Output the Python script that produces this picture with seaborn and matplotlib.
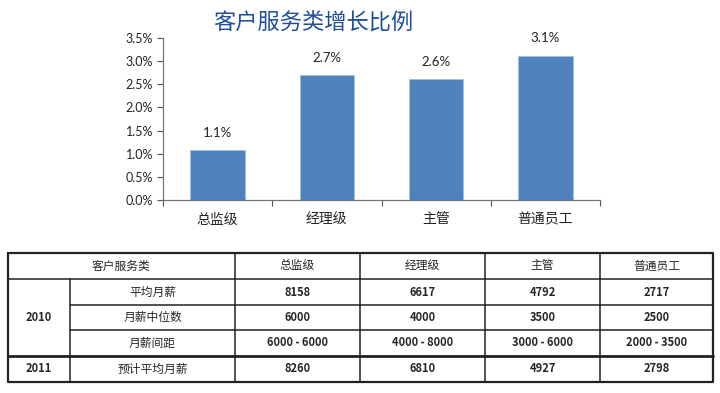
import matplotlib
matplotlib.use("Agg")
import matplotlib.pyplot as plt
import seaborn as sns
import pandas as pd
from matplotlib.ticker import FuncFormatter, FixedLocator

# ---- data ----
categories = ["总监级", "经理级", "主管", "普通员工"]
growth = [1.07, 2.70, 2.62, 3.12]  # percent
title = "客户服务类增长比例"

table_header = ["客户服务类", "总监级", "经理级", "主管", "普通员工"]
row_years = ["2010", "2011"]
row_labels = ["平均月薪", "月薪中位数", "月薪间距", "预计平均月薪"]
avg_salary_2010 = ["8158", "6617", "4792", "2717"]
median_salary_2010 = ["6000", "4000", "3500", "2500"]
salary_range_2010 = ["6000 - 6000", "4000 - 8000", "3000 - 6000", "2000 - 3500"]
avg_salary_2011 = ["8260", "6810", "4927", "2798"]

sns.set_theme(style="white")
plt.rcParams["font.family"] = ["Noto Sans CJK SC", "DejaVu Sans"]

W, H = 720, 393
fig = plt.figure(figsize=(W / 100, H / 100), dpi=100)

# ---- bar chart ----
ax = fig.add_axes([163 / W, 1 - 200 / H, (600 - 163) / W, (200 - 38) / H])
df = pd.DataFrame({"cat": categories, "val": growth})
sns.barplot(data=df, x="cat", y="val", color="#4F81BD", saturation=1,
            width=0.5, ax=ax, edgecolor="#9DC3E6", linewidth=0.6)
ax.set_ylim(0, 3.5)
ax.set_xlim(-0.5, len(categories) - 0.5)
ax.set_yticks([i * 0.5 for i in range(8)])
ax.yaxis.set_major_formatter(FuncFormatter(lambda v, p: f"{v:.1f}%"))
for lab in ax.get_yticklabels():
    lab.set_fontfamily(["Lato", "DejaVu Sans"])
ax.tick_params(axis="y", labelsize=9, length=4, width=0.8, color="#555555",
               direction="out", left=True, pad=3, labelcolor="#222222")
ax.tick_params(axis="x", which="major", length=0, labelsize=10, pad=9,
               labelcolor="#222222")
ax.xaxis.set_minor_locator(FixedLocator([i - 0.5 for i in range(len(categories) + 1)]))
ax.tick_params(axis="x", which="minor", length=4, width=0.8, color="#555555",
               direction="out", bottom=True)
ax.set_xlabel("")
ax.set_ylabel("")
for s in ["top", "right"]:
    ax.spines[s].set_visible(False)
for s in ["left", "bottom"]:
    ax.spines[s].set_color("#777777")
    ax.spines[s].set_linewidth(0.9)
for c in ax.containers:
    ax.bar_label(c, labels=[f"{v:.1f}%" for v in growth], padding=8,
                 fontsize=9.5, color="#222222", family=["Lato", "DejaVu Sans"])

fig.text(313 / W, 1 - 22 / H, title, ha="center", va="center",
         fontsize=16, color="#1F4E9A")

# ---- table ----
tx = fig.add_axes([0, 0, 1, 1])
tx.set_xlim(0, W)
tx.set_ylim(H, 0)
tx.axis("off")
tx.patch.set_alpha(0)

xs = [8, 70, 235, 360, 485, 600, 713]
ys = [253, 279, 305, 330, 356, 382]
lc = "#222222"
lw = 1.1
# outer box
tx.plot([xs[0], xs[-1], xs[-1], xs[0], xs[0]], [ys[0], ys[0], ys[-1], ys[-1], ys[0]],
        color=lc, lw=1.6)
# horizontal lines
tx.plot([xs[0], xs[-1]], [ys[1], ys[1]], color=lc, lw=lw)
tx.plot([xs[1], xs[-1]], [ys[2], ys[2]], color=lc, lw=lw)
tx.plot([xs[1], xs[-1]], [ys[3], ys[3]], color=lc, lw=lw)
tx.plot([xs[0], xs[-1]], [ys[4], ys[4]], color=lc, lw=2.0)
# vertical lines
tx.plot([xs[1], xs[1]], [ys[1], ys[-1]], color=lc, lw=lw)
for x in xs[2:-1]:
    tx.plot([x, x], [ys[0], ys[-1]], color=lc, lw=lw)

fs_cjk = 8.5
fs_num = 8
def cx(i, j):
    return (xs[i] + xs[j]) / 2
def cy(i, j):
    return (ys[i] + ys[j]) / 2

tx.text(cx(0, 2), cy(0, 1), table_header[0], ha="center", va="center", fontsize=fs_cjk)
for k, h in enumerate(table_header[1:]):
    tx.text(cx(2 + k, 3 + k), cy(0, 1), h, ha="center", va="center", fontsize=fs_cjk)
tx.text(cx(0, 1), cy(1, 4), row_years[0], ha="center", va="center", fontsize=fs_num, fontweight="bold")
tx.text(cx(0, 1), cy(4, 5), row_years[1], ha="center", va="center", fontsize=fs_num, fontweight="bold")
rows = [avg_salary_2010, median_salary_2010, salary_range_2010, avg_salary_2011]
for r, (lab, vals) in enumerate(zip(row_labels, rows)):
    tx.text(cx(1, 2), cy(1 + r, 2 + r), lab, ha="center", va="center", fontsize=fs_cjk)
    for k, v in enumerate(vals):
        tx.text(cx(2 + k, 3 + k), cy(1 + r, 2 + r), v, ha="center", va="center",
                fontsize=fs_num, fontweight="bold")

fig.savefig("out.png", dpi=100)
